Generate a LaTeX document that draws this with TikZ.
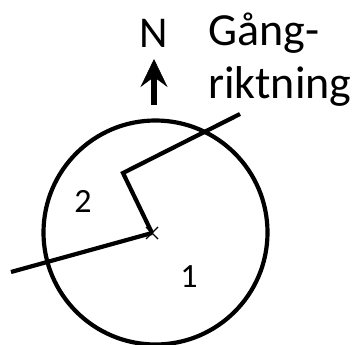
\documentclass[tikz,border=0pt]{standalone}
\usepackage{fontspec}
\setmainfont{Carlito}
\usetikzlibrary{arrows.meta}

\begin{document}
\begin{tikzpicture}[x=1pt,y=-1pt,>=Stealth,
  thickline/.style={line width=4.2pt},
  bigtext/.style={font=\fontsize{46}{53}\selectfont,inner sep=0pt},
  digit/.style={font=\fontsize{34}{40}\selectfont,inner sep=0pt}]
  \useasboundingbox (0,0) rectangle (359,345);
  % stationen i mitten
  \coordinate (mid) at (152,233);
  \coordinate (bend) at (123,173);
  \coordinate (outNE) at (240,114);
  \coordinate (outW) at (11,272);
  \draw[thickline] (155.5,232.5) circle[radius=112pt];
  \draw[thickline,line join=miter] (outNE) -- (bend) -- (mid);
  \draw[thickline] (outW) -- (mid);
  \draw[line width=1.4pt] (mid) ++(-6,-6) -- ++(12,12)
                          (mid) ++(6,-6) -- ++(-12,12);
  \node[digit] (two) at (83,201.5) {2};
  \node[digit] (one) at (189,276.5) {1};
  % norrpil
  \node[bigtext,font=\fontsize{44}{53}\selectfont] (north) at (154,33.5) {N};
  \coordinate (arrbot) at (154,105);
  \coordinate (arrtip) at (154,59);
  \draw[line width=6.5pt,-{Stealth[length=28pt,width=27pt,inset=10pt,line width=0.5pt]}]
    (arrbot) -- (arrtip);
  \node[bigtext,anchor=base west,align=left] (walk) at (208,99) {Gång-\\riktning};
\end{tikzpicture}
\end{document}
